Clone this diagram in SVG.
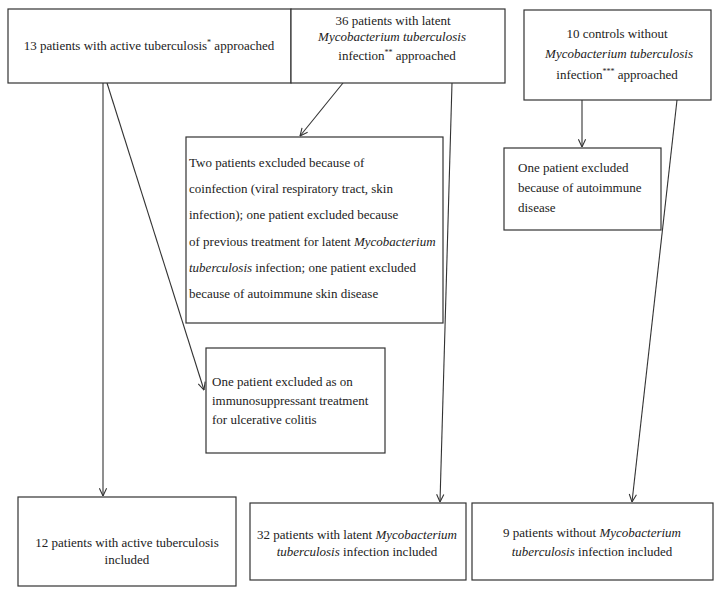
<svg xmlns="http://www.w3.org/2000/svg" width="722" height="595" viewBox="0 0 722 595">
<style>
.box{fill:#fff;stroke:#333;stroke-width:1.2}
text{font-family:"Liberation Serif","Times New Roman",serif;font-size:13px;fill:#222}
.c{text-anchor:middle}
.i{font-style:italic}
.sup{font-size:8px}
.con line{stroke:#333;stroke-width:1.1;fill:none}
</style>
<defs>
<marker id="arr" viewBox="0 0 10 10" refX="9.5" refY="5" markerWidth="9" markerHeight="9" markerUnits="userSpaceOnUse" orient="auto">
<polyline points="1,1 9.5,5 1,9" fill="none" stroke="#333" stroke-width="1.2"/>
</marker>
</defs>
<rect width="722" height="595" fill="#fff"/>
<g class="con">
<line x1="103" y1="83" x2="103" y2="496" marker-end="url(#arr)"/>
<line x1="107" y1="83" x2="204" y2="390" marker-end="url(#arr)"/>
<line x1="343" y1="83" x2="300" y2="136" marker-end="url(#arr)"/>
<line x1="452" y1="83" x2="440" y2="502" marker-end="url(#arr)"/>
<line x1="582" y1="100" x2="582" y2="147" marker-end="url(#arr)"/>
<line x1="677" y1="100" x2="632" y2="502" marker-end="url(#arr)"/>
</g>
<g id="n1">
<rect class="box" x="8" y="9" width="283" height="74"/>
<text class="c" x="149" y="50">13 patients with active tuberculosis<tspan class="sup" dy="-5">*</tspan><tspan dy="5"> approached</tspan></text>
</g>
<g id="n2">
<rect class="box" x="291" y="9" width="214" height="74"/>
<text class="c" x="393" y="25">36 patients with latent</text>
<text class="c i" x="392" y="41">Mycobacterium tuberculosis</text>
<text class="c" x="397" y="60">infection<tspan class="sup" dy="-5">**</tspan><tspan dy="5"> approached</tspan></text>
</g>
<g id="n3">
<rect class="box" x="524" y="10" width="187" height="90"/>
<text class="c" x="617" y="38">10 controls without</text>
<text class="c i" x="619" y="58">Mycobacterium tuberculosis</text>
<text class="c" x="617" y="79">infection<tspan class="sup" dy="-5">***</tspan><tspan dy="5"> approached</tspan></text>
</g>
<g id="n4">
<rect class="box" x="186" y="137" width="257" height="186"/>
<text x="189" y="167">Two patients excluded because of</text>
<text x="189" y="193">coinfection (viral respiratory tract, skin</text>
<text x="189" y="219">infection); one patient excluded because</text>
<text x="189" y="246">of previous treatment for latent <tspan class="i">Mycobacterium</tspan></text>
<text x="189" y="272"><tspan class="i">tuberculosis</tspan> infection; one patient excluded</text>
<text x="189" y="298">because of autoimmune skin disease</text>
</g>
<g id="n5">
<rect class="box" x="504" y="148" width="157" height="82"/>
<text x="518" y="172">One patient excluded</text>
<text x="518" y="192">because of autoimmune</text>
<text x="518" y="212">disease</text>
</g>
<g id="n6">
<rect class="box" x="206" y="348" width="179" height="105"/>
<text x="212" y="386">One patient excluded as on</text>
<text x="212" y="405">immunosuppressant treatment</text>
<text x="212" y="424">for ulcerative colitis</text>
</g>
<g id="n7">
<rect class="box" x="18" y="497" width="218" height="89"/>
<text class="c" x="127" y="547">12 patients with active tuberculosis</text>
<text class="c" x="127" y="564">included</text>
</g>
<g id="n8">
<rect class="box" x="250" y="503" width="216" height="77"/>
<text class="c" x="357" y="539">32 patients with latent <tspan class="i">Mycobacterium</tspan></text>
<text class="c" x="357" y="556"><tspan class="i">tuberculosis</tspan> infection included</text>
</g>
<g id="n9">
<rect class="box" x="472" y="503" width="241" height="77"/>
<text class="c" x="592" y="537">9 patients without <tspan class="i">Mycobacterium</tspan></text>
<text class="c" x="592" y="556"><tspan class="i">tuberculosis</tspan> infection included</text>
</g>
</svg>
